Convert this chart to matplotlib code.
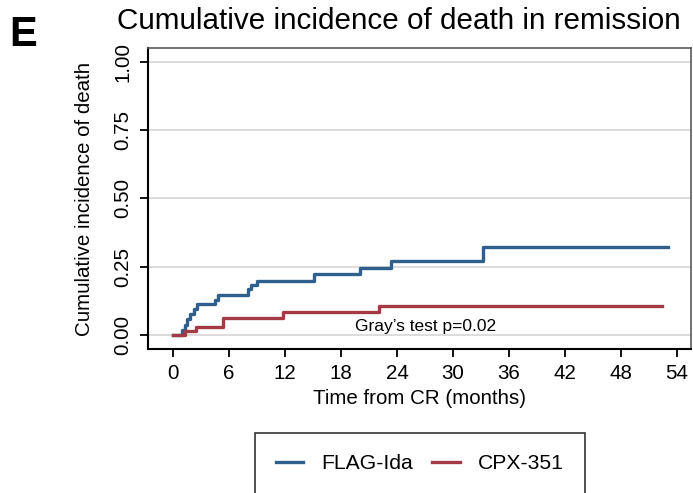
import matplotlib.pyplot as plt

plt.rcParams['font.family'] = ['Liberation Sans', 'DejaVu Sans']

# step times (months) and cumulative incidence reached at each time
flag_t = [0, 0.95, 1.25, 1.55, 1.85, 2.2, 2.55, 4.5, 4.8, 8.05, 8.4, 9.0, 15.1, 20.0, 23.4, 33.2, 53.0]
flag_y = [0, 0.019, 0.038, 0.057, 0.076, 0.095, 0.114, 0.128, 0.147, 0.167, 0.183, 0.199,
          0.223, 0.244, 0.272, 0.322, 0.322]
cpx_t = [0, 1.3, 2.5, 5.4, 11.8, 22.1, 52.4]
cpx_y = [0, 0.015, 0.03, 0.063, 0.083, 0.106, 0.106]

blue = '#2f5f8c'
red = '#a33a44'

fig = plt.figure(figsize=(6.93, 4.93), dpi=100)
ax = fig.add_axes([148 / 693, 1 - 349 / 493, (691 - 148) / 693, (349 - 48) / 493])

ax.step(flag_t, flag_y, where='post', color=blue, lw=2.4, label='FLAG-Ida', zorder=3)
ax.step(cpx_t, cpx_y, where='post', color=red, lw=2.4, label='CPX-351', zorder=3)

ax.set_xlim(-2.68, 55.5)
ax.set_ylim(-0.051, 1.05)
ax.set_xticks(range(0, 55, 6))
ax.set_yticks([0, 0.25, 0.5, 0.75, 1.0])
ax.set_yticklabels(['0.00', '0.25', '0.50', '0.75', '1.00'], rotation=90, va='center')
ax.tick_params(labelsize=14.8, length=6, width=1.3, color='black', pad=5)
ax.yaxis.grid(True, color='#dcdcdc', lw=1.4)
ax.set_axisbelow(True)

for s in ['left', 'bottom']:
    ax.spines[s].set_color('black')
    ax.spines[s].set_linewidth(1.5)
for s in ['top', 'right']:
    ax.spines[s].set_color('#5a5a5a')
    ax.spines[s].set_linewidth(1.2)

ax.set_xlabel('Time from CR (months)', fontsize=14.8, labelpad=4)
ax.set_ylabel('Cumulative incidence of death', fontsize=14.8, labelpad=14)

ax.text(19.5, 0.03, "Gray\u2019s test p=0.02", fontsize=12.5, va='center', ha='left')

fig.text(399 / 693, 1 - 21 / 493, 'Cumulative incidence of death in remission',
         fontsize=21.3, ha='center', va='center')
fig.text(9 / 693, 1 - 35 / 493, 'E', fontsize=30, fontweight='bold', ha='left', va='center')

leg = fig.legend(loc='upper center', bbox_to_anchor=(420 / 693, 1 - 433 / 493), ncol=2,
                 fontsize=15.2, frameon=True, fancybox=False, borderpad=1.0,
                 handlelength=1.3, columnspacing=0.9, handletextpad=0.87, borderaxespad=0)
leg.get_frame().set_edgecolor('black')
leg.get_frame().set_linewidth(1.2)

fig.savefig('out.png', dpi=100)
